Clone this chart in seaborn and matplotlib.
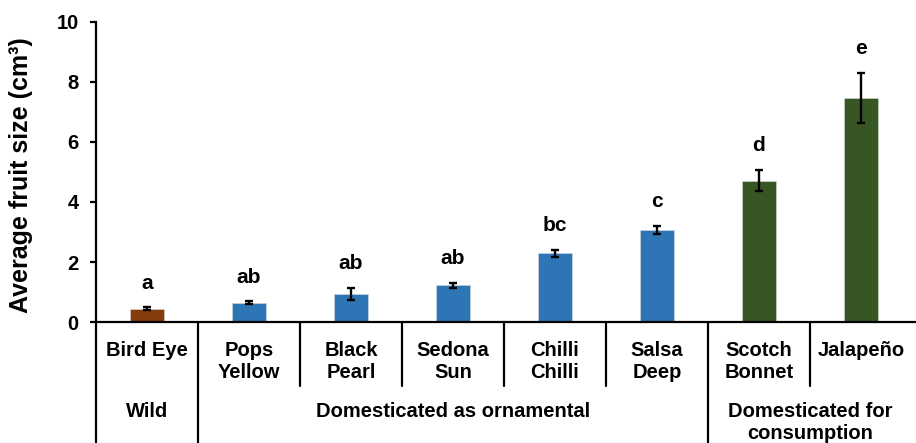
import matplotlib
matplotlib.use("Agg")
import matplotlib.pyplot as plt
import matplotlib.transforms as mtransforms
from matplotlib.lines import Line2D
import seaborn as sns
import pandas as pd

# Fruit size per chilli variety
varieties = ["Bird Eye", "Pops\nYellow", "Black\nPearl", "Sedona\nSun",
             "Chilli\nChilli", "Salsa\nDeep", "Scotch\nBonnet", "Jalapeño"]
mean_size = [0.45, 0.65, 0.94, 1.22, 2.29, 3.07, 4.71, 7.47]
std_err = [0.04, 0.04, 0.19, 0.08, 0.12, 0.14, 0.36, 0.83]
letters = ["a", "ab", "ab", "ab", "bc", "c", "d", "e"]
groups = ["Wild", "Domesticated as ornamental", "Domesticated as ornamental",
          "Domesticated as ornamental", "Domesticated as ornamental",
          "Domesticated as ornamental", "Domesticated for\nconsumption",
          "Domesticated for\nconsumption"]
group_colors = {"Wild": "#843C0C",
                "Domesticated as ornamental": "#2E75B6",
                "Domesticated for\nconsumption": "#375623"}
y_ticks = [0, 2, 4, 6, 8, 10]

df = pd.DataFrame({"variety": varieties, "size": mean_size,
                   "err": std_err, "group": groups})

sns.set_style("white")
plt.rcParams["font.family"] = ["Liberation Sans", "DejaVu Sans"]
plt.rcParams["font.weight"] = "bold"
for key in ["text.color", "axes.labelcolor", "xtick.color", "ytick.color"]:
    plt.rcParams[key] = "black"

W, H = 916, 443
fig = plt.figure(figsize=(W / 100, H / 100), dpi=100)
ax_left, ax_right, ax_top, ax_bottom = 96, 916, 22, 322
ax = fig.add_axes([ax_left / W, (H - ax_bottom) / H,
                   (ax_right - ax_left) / W, (ax_bottom - ax_top) / H])

palette = {v: group_colors[g] for v, g in zip(varieties, groups)}
sns.barplot(data=df, x="variety", y="size", hue="variety", palette=palette,
            legend=False, width=0.33, ax=ax, saturation=1,
            edgecolor="#d9d9d9", linewidth=0.4)

xpos = list(range(len(varieties)))
ax.errorbar(xpos, mean_size, yerr=std_err, fmt="none", ecolor="black",
            elinewidth=1.7, capsize=3.2, capthick=1.7, zorder=5)

for x, m, e, lab in zip(xpos, mean_size, std_err, letters):
    ax.annotate(lab, (x, m + e), xytext=(0, 13.5), textcoords="offset points",
                ha="center", va="baseline", fontsize=15, fontweight="bold",
                color="black")

ax.set_ylim(0, 10)
ax.set_xlim(-0.5, 7.54)
ax.set_yticks(y_ticks)
ax.set_yticklabels([str(t) for t in y_ticks], fontsize=14.5, fontweight="bold")
ax.tick_params(axis="y", direction="out", length=4.5, width=1.6, pad=8,
               left=True, colors="black")
ax.set_xticks([])
ax.set_xlabel("")
ax.set_ylabel("Average fruit size (cm³)", fontsize=18, fontweight="bold",
              color="black")
ax.yaxis.set_label_coords(-0.077, 0.49)

for side in ["top", "right"]:
    ax.spines[side].set_visible(False)
for side in ["left", "bottom"]:
    ax.spines[side].set_color("black")
    ax.spines[side].set_linewidth(1.6)

# Category table below the axis
trans = mtransforms.blended_transform_factory(ax.transData, ax.transAxes)
axh = ax_bottom - ax_top


def yfrac(py):
    return (ax_bottom - py) / axh


full_dividers = {-0.5, 0.5, 5.5}
for k in [-0.5, 0.5, 1.5, 2.5, 3.5, 4.5, 5.5, 6.5]:
    y_end = yfrac(H + 2) if k in full_dividers else yfrac(386)
    ax.add_line(Line2D([k, k], [0, y_end], transform=trans, color="black",
                       lw=1.6, clip_on=False))

for x, name in zip(xpos, varieties):
    for i, line in enumerate(name.split("\n")):
        ax.text(x, yfrac(356 + 22 * i), line, transform=trans, ha="center",
                va="baseline", fontsize=14.5, fontweight="bold", color="black")

group_spans = {}
for x, g in zip(xpos, groups):
    group_spans.setdefault(g, []).append(x)
for g, xs in group_spans.items():
    xc = (min(xs) + max(xs)) / 2
    for i, line in enumerate(g.split("\n")):
        ax.text(xc, yfrac(417 + 22 * i), line, transform=trans, ha="center",
                va="baseline", fontsize=14.5, fontweight="bold", color="black")

fig.savefig("out.png", dpi=100)
